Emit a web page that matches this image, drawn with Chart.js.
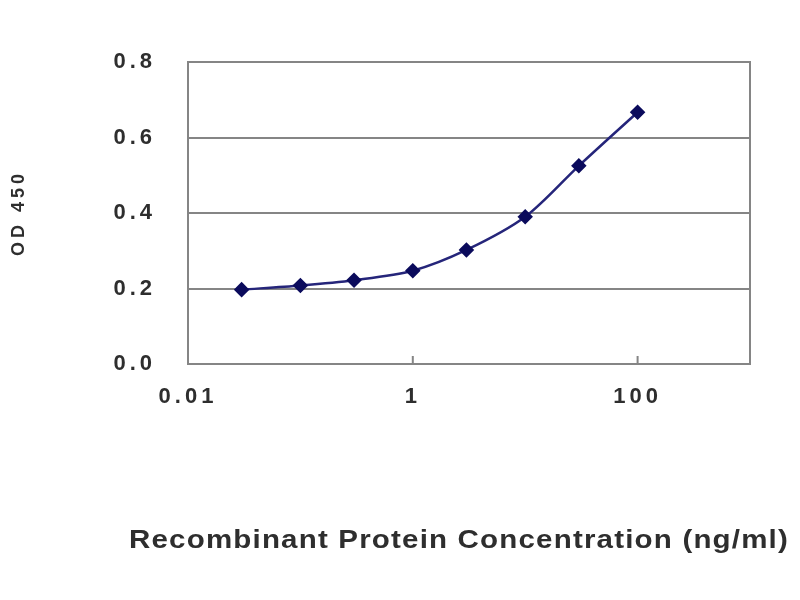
<!DOCTYPE html>
<html>
<head>
<meta charset="utf-8">
<script src="https://cdn.jsdelivr.net/npm/chart.js@4.4.1/dist/chart.umd.min.js"></script>
<style>
    html, body { margin: 0; padding: 0; background: #fff; }
    canvas { display: block; }
</style>
</head>
<body>
<canvas id="odChart" width="800" height="600"></canvas>
<script>
// standard curve
const concentrations = [0.03, 0.1, 0.3, 1, 3, 10, 30, 100];
const od450 = [0.197, 0.208, 0.222, 0.247, 0.302, 0.390, 0.525, 0.667];
const xTickValues = [0.01, 1, 100];
const xTickLabels = ['0.01', '1', '100'];
const yTickValues = [0, 0.2, 0.4, 0.6, 0.8];
const xTitleText = 'Recombinant Protein Concentration (ng/ml)';
const yTitleText = 'OD 450';

const gridGray = '#858585';
const textGray = '#2e2e2e';
const fontFamily = 'Liberation Sans, Arial, sans-serif';

// the reference text is wide, so space the letters out
const wideText = {
    id: 'wideText',
    beforeDraw(chart) {
        chart.ctx.letterSpacing = '4px';
    }
};

// x title is stretched sideways in the reference, draw it by hand
const xTitle = {
    id: 'xTitle',
    afterDraw(chart) {
        const ctx = chart.ctx;
        ctx.save();
        ctx.letterSpacing = '1px';
        ctx.font = 'bold 25px ' + fontFamily;
        ctx.fillStyle = textGray;
        ctx.textAlign = 'center';
        ctx.textBaseline = 'middle';
        const w = ctx.measureText(xTitleText).width;
        ctx.translate(459, 541);
        ctx.scale(660 / w, 1);
        ctx.fillText(xTitleText, 0, 0);
        ctx.restore();
    }
};

// box round the plot and the small inward ticks on the x axis
const plotFrame = {
    id: 'plotFrame',
    afterDatasetsDraw(chart) {
        const { ctx, chartArea, scales } = chart;
        ctx.save();
        ctx.strokeStyle = gridGray;
        ctx.lineWidth = 2;
        ctx.strokeRect(chartArea.left, chartArea.top, chartArea.right - chartArea.left, chartArea.bottom - chartArea.top);
        ctx.beginPath();
        xTickValues.forEach(v => {
            const px = scales.x.getPixelForValue(v);
            ctx.moveTo(px, chartArea.bottom);
            ctx.lineTo(px, chartArea.bottom - 8);
        });
        ctx.stroke();
        ctx.restore();
    }
};

new Chart(document.getElementById('odChart').getContext('2d'), {
    type: 'line',
    data: {
        datasets: [{
            data: concentrations.map((c, i) => ({ x: c, y: od450[i] })),
            borderColor: '#25257a',
            borderWidth: 2.5,
            backgroundColor: '#0b0b5c',
            pointBackgroundColor: '#0b0b5c',
            pointBorderColor: '#0b0b5c',
            pointStyle: 'rectRot',
            pointRadius: 6,
            tension: 0.3,
            fill: false
        }]
    },
    options: {
        responsive: false,
        animation: false,
        layout: { padding: { left: 0, right: 50, top: 62, bottom: 0 } },
        plugins: {
            legend: { display: false },
            tooltip: { enabled: false }
        },
        scales: {
            x: {
                type: 'logarithmic',
                min: 0.01,
                max: 1000,
                afterBuildTicks: scale => {
                    scale.ticks = xTickValues.map(v => ({ value: v }));
                },
                afterFit: scale => { scale.height = 236; },
                grid: { display: false, drawTicks: false },
                border: { display: false },
                ticks: {
                    padding: 20,
                    color: textGray,
                    font: { family: fontFamily, size: 22, weight: 'bold' },
                    callback: (value, i) => xTickLabels[i]
                },
                title: { display: false }
            },
            y: {
                min: 0,
                max: 0.8,
                afterBuildTicks: scale => {
                    scale.ticks = yTickValues.map(v => ({ value: v }));
                },
                afterFit: scale => { scale.width = 188; },
                grid: { color: gridGray, lineWidth: 2, drawTicks: false },
                border: { display: true, color: gridGray, width: 2 },
                ticks: {
                    padding: 32,
                    color: textGray,
                    font: { family: fontFamily, size: 22, weight: 'bold' },
                    callback: value => value.toFixed(1)
                },
                title: {
                    display: true,
                    text: yTitleText,
                    color: textGray,
                    font: { family: fontFamily, size: 18, weight: 'bold' },
                    padding: { top: 8, bottom: 0 }
                }
            }
        }
    },
    plugins: [wideText, plotFrame, xTitle]
});
</script>
</body>
</html>
